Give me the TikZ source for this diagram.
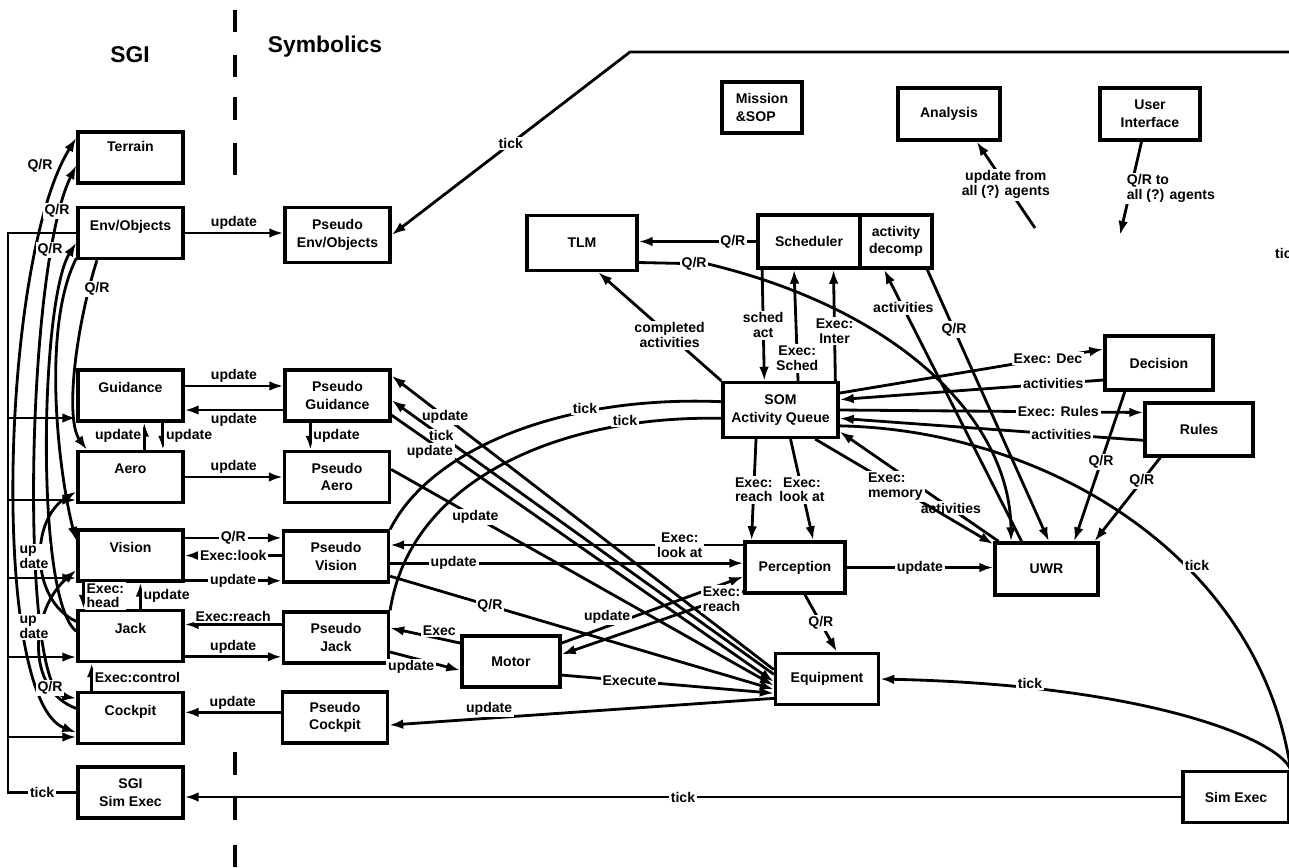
\documentclass[tikz,border=0pt]{standalone}
\usepackage{fontspec}
\setmainfont{Liberation Sans}
\usetikzlibrary{arrows.meta}

\begin{document}
\begin{tikzpicture}[x=0.02cm, y=-0.02cm, line width=1.6pt,
        box/.style = {draw, rectangle, line width=1.9pt, fill=white, align=center,
                      inner sep=1pt, minimum width=2.1cm, minimum height=1.02cm,
                      font=\bfseries\fontsize{8}{10}\selectfont},
        sgi/.style = {box, text depth=9pt},
        lbl/.style = {fill=white, inner sep=1pt, align=center,
                      font=\bfseries\fontsize{8}{8.5}\selectfont},
        heading/.style = {font=\bfseries\fontsize{13}{15}\selectfont},
        arr/.style = {-{Latex[length=8pt,width=5.5pt]}},
        dbl/.style = {{Latex[length=8pt,width=5.5pt]}-{Latex[length=8pt,width=5.5pt]}}]

    \useasboundingbox (0,0) rectangle (1289,867);

    % Headings
    \node[heading] (sgihead) at (130,55) {SGI};
    \node[heading] (symhead) at (325,47) {Symbolics};

    % Machine border
    \foreach \y/\l in {10/22, 55/22, 97/23, 143/32, 752/23, 797/23, 845/22}
        \draw[line width=2pt] (235,\y) -- ++(0,\l);

    % SGI agents
    \node[sgi, text depth=13pt] (terrain) at (130.5,157.5) {Terrain};
    \node[sgi] (envobj) at (130.5,233) {Env/Objects};
    \node[sgi] (guidance) at (130.5,395.5) {Guidance};
    \node[sgi] (aero) at (130.5,477) {Aero};
    \node[sgi] (vision) at (130.5,555.5) {Vision};
    \node[sgi] (jack) at (130.5,636) {Jack};
    \node[sgi] (cockpit) at (130.5,718) {Cockpit};
    \node[box] (sgisim) at (130.5,792.5) {SGI\\Sim Exec};

    % Pseudo agents
    \node[box, minimum height=1.1cm] (penv) at (337.5,235) {Pseudo\\Env/Objects};
    \node[box] (pguid) at (337.5,395.5) {Pseudo\\Guidance};
    \node[box] (paero) at (337,477) {Pseudo\\Aero};
    \node[box] (pvision) at (336,556.5) {Pseudo\\Vision};
    \node[box] (pjack) at (336,637.5) {Pseudo\\Jack};
    \node[box] (pcockpit) at (335,717.5) {Pseudo\\Cockpit};
    \node[box, minimum width=1.96cm] (motor) at (511,661.5) {Motor};

    % Symbolics agents
    \node[box, minimum width=2.2cm, minimum height=1.1cm] (tlm) at (582,243) {TLM};
    \node[box, minimum width=2.04cm, minimum height=1.06cm] (sched) at (809,241.5) {Scheduler};
    \node[box, minimum width=1.44cm, minimum height=1.06cm] (decomp) at (896,241.5) {activity\\decomp};
    \node[box, minimum width=2.3cm, minimum height=1.1cm] (som) at (780.5,410) {SOM\\Activity Queue};
    \node[box, minimum width=1.6cm, align=left] (mission) at (762,107.5) {Mission\\\&SOP};
    \node[box, minimum width=2.04cm, minimum height=1.04cm] (analysis) at (949,114) {Analysis};
    \node[box, minimum width=2cm, minimum height=1.04cm] (userint) at (1150,114) {User\\Interface};
    \node[box, minimum width=2.16cm, minimum height=1.08cm] (decision) at (1159,363) {Decision};
    \node[box, minimum width=2.16cm, minimum height=1.06cm] (rules) at (1199,429.5) {Rules};
    \node[box, minimum width=2cm] (perception) at (795,567.5) {Perception};
    \node[box, minimum width=2.06cm, minimum height=1.04cm] (uwr) at (1046.5,569) {UWR};
    \node[box, minimum width=2.06cm] (equipment) at (827,679) {Equipment};
    \node[box, minimum width=2.12cm] (simexec) at (1236,797) {Sim Exec};

    % Clock bus on the SGI side
    \coordinate (busbot) at (8,792.5);
    \coordinate (bustop) at (8,233);
    \draw (sgisim.west) -- node[lbl] {tick} (busbot) -- (bustop) -- (envobj.west);
    \foreach \n/\y in {guidance/418, aero/500, vision/578, jack/657, cockpit/737} {
        \coordinate (b\n) at (8,\y);
        \draw[arr] (b\n) -- (b\n -| \n.west);
    }

    % SGI <-> pseudo agents
    \draw[arr] (envobj.east) -- node[lbl, above] {update} (envobj.east -| penv.west);
    \draw[arr] (guidance.10) -- node[lbl, above] {update} (guidance.10 -| pguid.west);
    \draw[arr] (guidance.345 -| pguid.west) -- node[lbl, below] {update} (guidance.345);
    \draw[arr] (aero.east) -- node[lbl, above] {update} (aero.east -| paero.west);
    \draw[arr] (vision.18) -- node[lbl] {Q/R} (vision.18 -| pvision.west);
    \draw[arr] (vision.east -| pvision.west) -- node[lbl] {Exec:look} (vision.east);
    \draw[arr] (vision.335) -- node[lbl] {update} (vision.335 -| pvision.west);
    \draw[arr] (jack.12 -| pjack.west) -- node[lbl, above] {Exec:reach} (jack.12);
    \draw[arr] (jack.339) -- node[lbl, above] {update} (jack.339 -| pjack.west);
    \draw[arr] (cockpit.6 -| pcockpit.west) -- node[lbl, above] {update} (cockpit.6);

    % Within a column
    \draw[arr] (aero.63) -- node[lbl, left] {update} (aero.63 |- guidance.south);
    \draw[arr] (guidance.320) -- node[lbl, right] {update} (guidance.320 |- aero.north);
    \draw[arr] (vision.210) -- node[lbl, right, align=left] {Exec:\\head} (vision.210 |- jack.north);
    \draw[arr] (jack.70) -- node[lbl, right] {update} (jack.70 |- vision.south);
    \draw[arr] (cockpit.145) -- node[lbl, right] {Exec:control} (cockpit.145 |- jack.south);
    \draw[arr] (pguid.225) -- node[lbl, right] {update} (pguid.225 |- paero.north);

    % Q/R tangle on the SGI side
    \draw[dbl] (cockpit.195) .. controls (-10,700) and (0,260) .. (terrain.160);
    \draw[dbl] (cockpit.160) .. controls (20,690) and (25,270) .. (terrain.188);
    \draw[arr] (jack.175) .. controls (35,600) and (40,300) .. (envobj.190);
    \draw[arr] (envobj.219) .. controls (75,330) and (65,420) .. (aero.148);
    \draw[arr] (jack.165) .. controls (30,600) and (30,520) .. (aero.195);
    \draw[arr] (cockpit.170) .. controls (25,690) and (30,610) .. (vision.195);
    \draw[arr] (envobj.205) .. controls (40,330) and (60,480) .. (vision.165);

    % Tick to Pseudo Env/Objects
    \coordinate (topend) at (1289,52);
    \coordinate (topbend) at (630,52);
    \draw[arr] (topend) -- (topbend) -- node[lbl] {tick} (penv.east);

    % Pseudo agents <-> Equipment
    \draw[arr] (equipment.170) -- node[lbl, pos=0.86] {update} (pguid.20);
    \draw[arr] (equipment.175) -- node[lbl, pos=0.87] {tick} (pguid.355);
    \draw[arr] (pguid.340) -- node[lbl, pos=0.1, below] {update} (equipment.183);
    \draw[arr] (paero.8) -- node[lbl, pos=0.22] {update} (equipment.187);
    \draw[arr] (pvision.340) -- node[lbl, pos=0.26] {Q/R} (equipment.191);
    \draw[arr] (motor.345) -- node[lbl, pos=0.32] {Execute} (equipment.195);
    \draw[arr] (equipment.200) -- node[lbl, pos=0.74, above] {update} (pcockpit.352);

    % Motor
    \draw[arr] (motor.160) -- node[lbl, above, pos=0.3] {Exec} (pjack.10);
    \draw[arr] (pjack.345) -- node[lbl, below, pos=0.3] {update} (motor.190);
    \draw[arr] (motor.20) -- node[lbl, above, pos=0.25] {update} (perception.190);
    \draw[arr] (perception.205) -- node[lbl, pos=0.12] {Exec:\\reach} (motor.8);

    % Perception
    \draw[arr] (pvision.353) -- node[lbl, pos=0.18] {update} (pvision.353 -| perception.west);
    \draw[arr] (pvision.12 -| perception.west) -- node[lbl, pos=0.18] {Exec:\\look at} (pvision.12);
    \draw[arr] (som.230) -- node[lbl] {Exec:\\reach} (perception.148);
    \draw[arr] (som.289) -- node[lbl] {Exec:\\look at} (perception.56);
    \draw[arr] (perception.east) -- node[lbl] {update} (perception.east -| uwr.west);
    \draw[arr] (perception.290) -- node[lbl] {Q/R} (equipment.70);

    % Scheduler and TLM
    \draw[arr] (sched.211) -- node[lbl] {sched\\act} (som.119);
    \draw[arr] (som.59) -- node[lbl, pos=0.2] {Exec:\\Sched} (sched.242);
    \draw[arr] (som.28) -- node[lbl, pos=0.45] {Exec:\\Inter} (sched.311);
    \draw[arr] (sched.west) -- node[lbl, pos=0.2] {Q/R} (sched.west -| tlm.east);
    \coordinate (qrbend) at (708,264);
    \draw[arr] (tlm.341) -- node[lbl, pos=0.8] {Q/R} (qrbend) .. controls (900,310) and (1010,420) .. (uwr.142);
    \draw[arr] (som.north west) -- node[lbl, pos=0.42] {completed\\activities} (tlm.299);

    % UWR
    \draw[arr] (uwr.132) -- node[lbl, pos=0.86] {activities} (decomp.247);
    \draw[arr] (decomp.318) -- node[lbl, pos=0.22] {Q/R} (uwr.85);
    \draw[arr] (decision.220) -- node[lbl, pos=0.47] {Q/R} (uwr.45);
    \draw[arr] (rules.216) -- node[lbl, pos=0.28] {Q/R} (uwr.30);
    \draw[arr] (uwr.150) -- node[lbl, pos=0.3] {activities} (som.340);
    \draw[arr] (som.320) -- node[lbl, pos=0.45, align=left] {Exec:\\memory} (uwr.155);

    % Decision and Rules
    \draw[arr] (som.16) -- node[lbl, pos=0.79] {Exec: Dec} (decision.166);
    \draw[arr] (decision.197) -- node[lbl, pos=0.19] {activities} (som.10);
    \draw[arr] (som.0) -- node[lbl, pos=0.72] {Exec: Rules} (rules.163);
    \draw[arr] (rules.191) -- node[lbl, pos=0.27] {activities} (som.352);

    % Clock lines
    \draw (som.345) .. controls (1050,430) and (1260,560) .. (simexec.north east);
    \draw[arr] (simexec.north east) .. controls (1280,740) and (1150,685) .. (equipment.east);
    \draw (som.172) .. controls (560,395) and (430,450) .. (pvision.north east);
    \draw (som.188) .. controls (560,415) and (410,480) .. (pjack.north east);
    \draw[arr] (simexec.west) -- node[lbl] {tick} (simexec.west -| sgisim.east);

    % Analysis and user interface
    \coordinate (fromall) at (1035,228);
    \draw[arr] (fromall) -- node[lbl] {update from\\all (?) agents} (analysis.315);
    \coordinate (toall) at (1120,235);
    \draw[arr] (userint.253) -- node[lbl, pos=0.5, anchor=west, align=left, xshift=-4pt] {Q/R to\\all (?) agents} (toall);

    % Labels on curves
    \node[lbl] (qr1) at (40,166) {Q/R};
    \node[lbl] (qr2) at (57,211) {Q/R};
    \node[lbl] (qr3) at (50,250) {Q/R};
    \node[lbl] (qr4) at (97,289) {Q/R};
    \node[lbl] (qr5) at (50,688) {Q/R};
    \node[lbl, align=left] (upd1) at (34,557) {up\\date};
    \node[lbl, align=left] (upd2) at (34,627) {up\\date};
    \node[lbl] (tick1) at (585,408) {tick};
    \node[lbl] (tick2) at (625,420) {tick};
    \node[lbl] (tick3) at (1197,565) {tick};
    \node[lbl] (tick4) at (1030,683) {tick};
    \node[lbl, anchor=west] (tick5) at (1272,253) {tick};

\end{tikzpicture}
\end{document}
